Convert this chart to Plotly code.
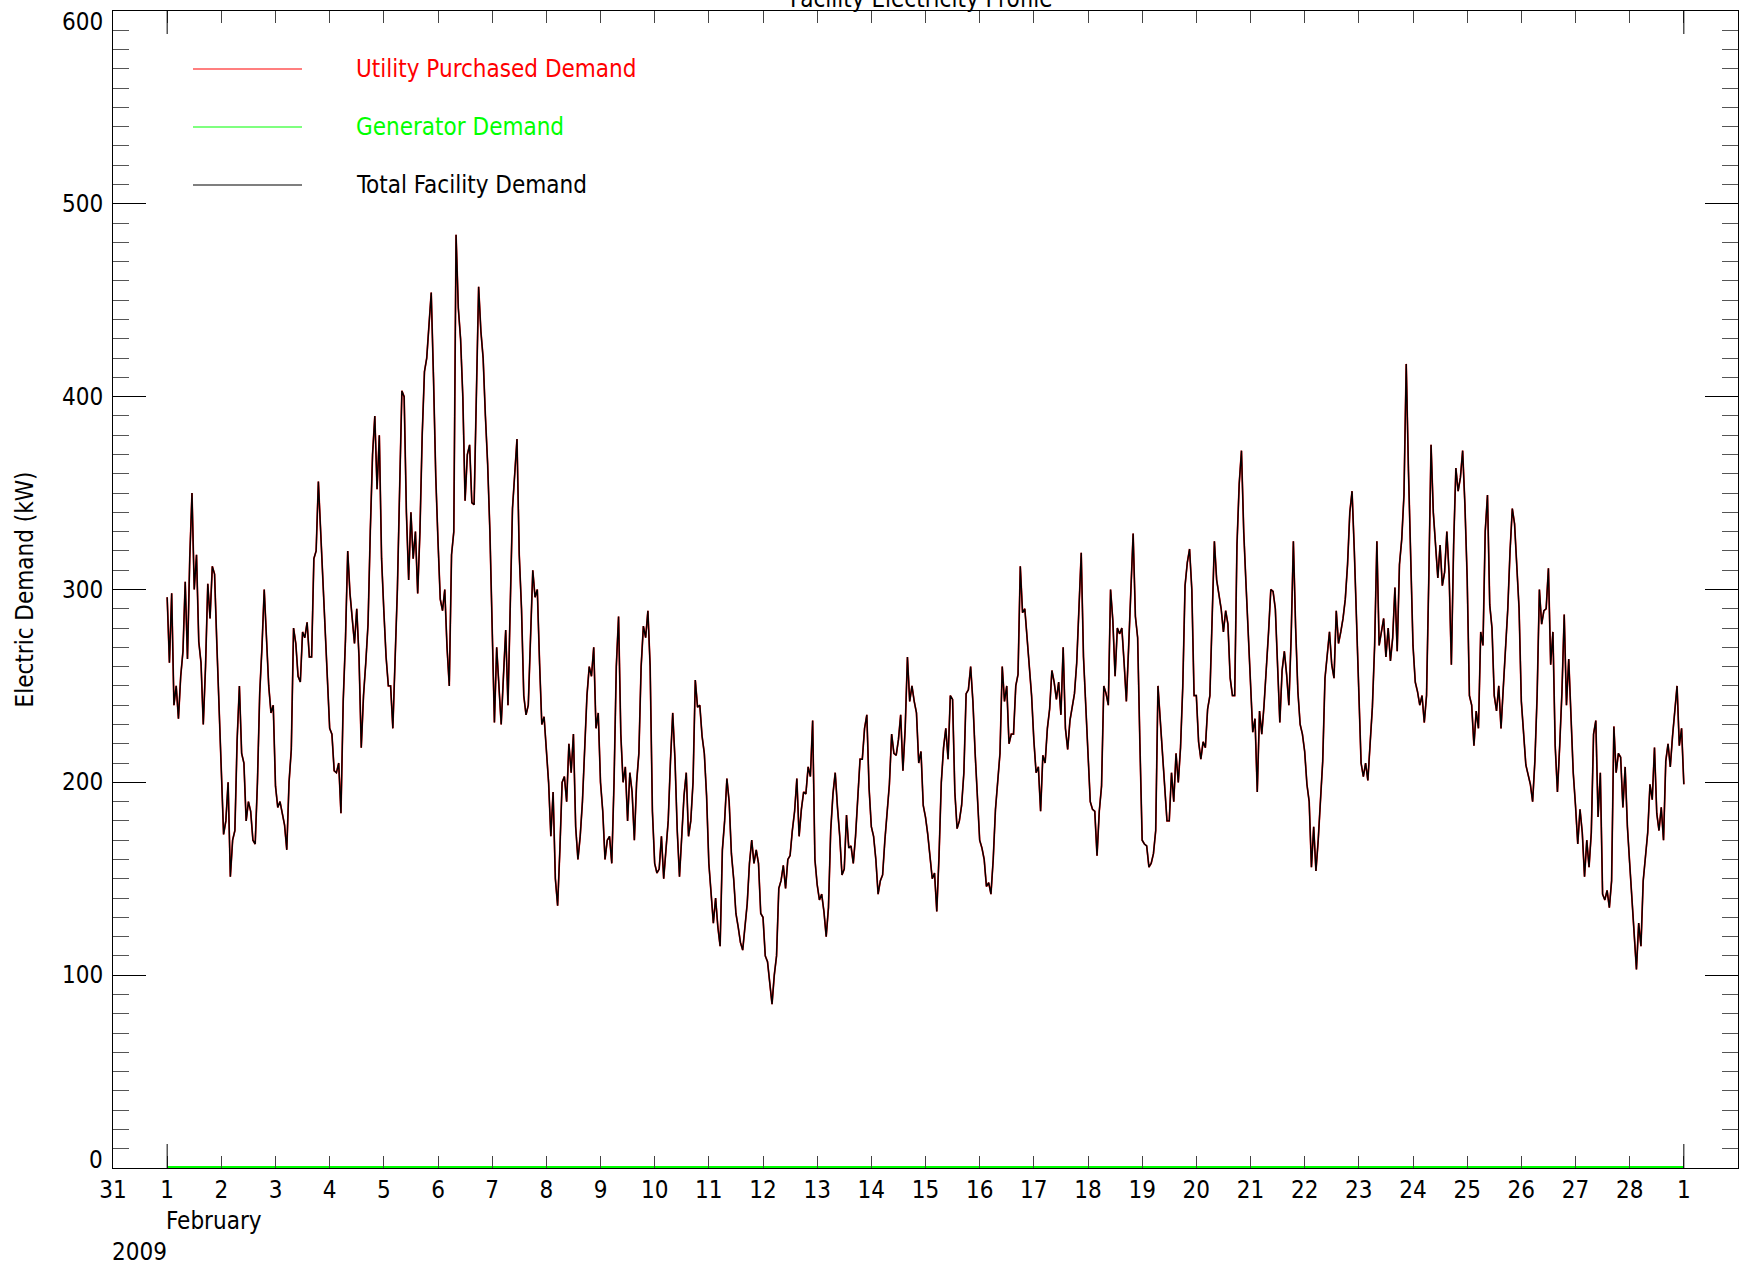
import pandas as pd
import plotly.graph_objects as go

# ---------------- data (hourly readings, kW) ----------------
# Feb 1 - Feb 7
week1_total = [
    296, 262, 298, 240, 250, 233, 255, 268, 304, 264, 316, 350, 300, 318, 273, 262, 230, 260, 303, 285, 312, 308, 272, 239,
    205, 173, 180, 200, 151, 170, 175, 222, 250, 215, 210, 180, 190, 185, 170, 168, 200, 246, 270, 300, 275, 250, 236, 240,
    198, 187, 190, 184, 178, 165, 200, 217, 280, 272, 255, 252, 278, 275, 283, 265, 265, 316, 320, 356, 330, 310, 277, 250,
    228, 225, 206, 205, 210, 184, 242, 274, 320, 298, 285, 272, 290, 265, 218, 245, 262, 282, 330, 370, 390, 352, 380, 316,
    289, 265, 250, 250, 228, 265, 300, 352, 403, 400, 340, 305, 340, 316, 330, 298, 330, 380, 413, 420, 440, 454, 410, 359,
    325, 295, 289, 300, 270, 250, 318, 330, 484, 446, 430, 400, 346, 370, 375, 345, 344, 400, 457, 434, 420, 390, 365, 330,
    280, 231, 270, 250, 230, 255, 279, 240, 290, 342, 360, 378, 318, 290, 245, 235, 240, 280, 310, 296, 300, 262, 230, 234,
]
# Feb 8 - Feb 14
week2_total = [
    215, 200, 172, 195, 150, 136, 165, 200, 203, 190, 220, 205, 225, 177, 160, 172, 190, 215, 245, 260, 255, 270, 228, 236,
    200, 185, 160, 170, 172, 158, 200, 260, 286, 225, 200, 208, 180, 205, 195, 170, 200, 215, 260, 281, 275, 289, 260, 185,
    158, 153, 155, 172, 150, 165, 180, 211, 236, 212, 175, 151, 172, 193, 205, 172, 180, 200, 253, 239, 240, 224, 215, 193,
    158, 140, 127, 140, 125, 115, 165, 180, 202, 190, 163, 150, 132, 125, 117, 113, 126, 137, 158, 170, 158, 165, 158, 132,
    130, 110, 107, 94, 85, 100, 110, 145, 149, 157, 145, 160, 162, 175, 185, 202, 172, 186, 195, 194, 208, 203, 232, 160,
    147, 139, 142, 133, 120, 135, 175, 194, 205, 187, 172, 152, 155, 183, 166, 167, 158, 172, 190, 212, 212, 228, 235, 197,
    177, 172, 160, 142, 149, 152, 170, 185, 199, 225, 215, 214, 222, 235, 206, 228, 265, 242, 250, 242, 236, 210, 216, 188,
]
# Feb 15 - Feb 21
week3_total = [
    182, 173, 160, 150, 153, 133, 162, 200, 218, 228, 212, 245, 243, 195, 176, 180, 188, 205, 246, 248, 260, 242, 215, 190,
    170, 166, 160, 146, 148, 142, 160, 186, 201, 215, 260, 242, 250, 220, 225, 225, 250, 256, 312, 288, 290, 275, 262, 245,
    222, 205, 208, 185, 214, 210, 228, 238, 258, 252, 243, 252, 235, 270, 228, 217, 232, 238, 246, 262, 290, 319, 265, 240,
    220, 190, 186, 185, 162, 185, 198, 250, 246, 240, 300, 284, 255, 280, 277, 280, 262, 242, 270, 305, 329, 286, 275, 220,
    170, 168, 167, 156, 158, 163, 175, 250, 232, 212, 197, 180, 180, 205, 190, 215, 200, 218, 250, 302, 314, 321, 300, 245,
    245, 221, 212, 221, 218, 238, 245, 280, 325, 305, 297, 290, 278, 289, 282, 254, 245, 245, 323, 355, 372, 330, 303, 275,
    250, 226, 233, 195, 237, 225, 240, 257, 278, 300, 299, 290, 263, 231, 258, 268, 256, 240, 275, 325, 280, 247, 230, 225,
]
# Feb 22 - Feb 28
week4_total = [
    216, 199, 190, 156, 177, 154, 170, 190, 211, 254, 265, 278, 261, 254, 289, 272, 278, 285, 295, 313, 340, 351, 320, 285,
    250, 210, 203, 210, 201, 222, 239, 271, 325, 271, 278, 285, 265, 280, 263, 275, 301, 268, 313, 326, 349, 417, 361, 320,
    271, 252, 247, 240, 245, 231, 245, 306, 375, 340, 323, 306, 323, 302, 309, 330, 308, 261, 323, 363, 351, 358, 372, 344,
    306, 245, 240, 219, 237, 228, 278, 271, 330, 349, 292, 280, 245, 237, 250, 228, 249, 271, 290, 320, 342, 334, 309, 290,
    242, 223, 209, 204, 199, 190, 211, 245, 300, 282, 289, 290, 311, 261, 278, 219, 195, 219, 247, 287, 240, 264, 237, 205,
    188, 168, 186, 174, 151, 170, 156, 174, 225, 232, 182, 205, 142, 139, 144, 135, 149, 229, 205, 215, 213, 187, 208, 177,
    158, 139, 123, 103, 127, 115, 149, 163, 174, 199, 191, 218, 184, 175, 187, 170, 211, 220, 208, 224, 237, 250, 219, 228,
]
# Mar 1 00:00
final_total = [199]

total_demand = week1_total + week2_total + week3_total + week4_total + final_total
generator_demand = [0] * len(total_demand)
utility_demand = [t - g for t, g in zip(total_demand, generator_demand)]
times = pd.date_range("2009-02-01 00:00", periods=len(total_demand), freq="h")

day_ticks = pd.date_range("2009-01-31", "2009-03-01", freq="D")
day_labels = [str(d.day) for d in day_ticks]
y_ticks = [0, 100, 200, 300, 400, 500, 600]

legend_names = ["Utility Purchased Demand", "Generator Demand", "Total Facility Demand"]
legend_colors = ["#ff0000", "#00ff00", "#000000"]

# ---------------- figure ----------------
FONT = "Liberation Sans Narrow, Arial Narrow, DejaVu Sans Condensed, sans-serif"
FS = 24
W, H = 1741, 1272
L, R, T, B = 113, 3, 11, 104
PW, PH = W - L - R, H - T - B

fig = go.Figure()
fig.add_trace(go.Scatter(x=times, y=utility_demand, mode="lines", name=legend_names[0],
                         line=dict(color="#ff0000", width=1.7)))
fig.add_trace(go.Scatter(x=times, y=total_demand, mode="lines", name=legend_names[2],
                         line=dict(color="#000000", width=1.4)))
fig.add_trace(go.Scatter(x=times, y=generator_demand, mode="lines", name=legend_names[1],
                         line=dict(color="#00ff00", width=4)))

fig.update_layout(
    width=W, height=H,
    margin=dict(l=L, r=R, t=T, b=B, pad=0),
    paper_bgcolor="white", plot_bgcolor="white",
    showlegend=False,
    font=dict(family=FONT, size=FS, color="black"),
)

fig.update_xaxes(
    type="date", range=["2009-01-31 00:00", "2009-03-02 00:00"],
    tickmode="array", tickvals=list(day_ticks), ticktext=day_labels,
    ticks="inside", ticklen=12, tickwidth=1, tickcolor="#444",
    showline=True, linecolor="black", linewidth=1, mirror="ticks",
    showgrid=False, zeroline=False,
    tickfont=dict(family=FONT, size=FS, color="black"),
)
fig.update_yaxes(
    range=[0, 600], tickmode="array", tickvals=y_ticks,
    ticks="inside", ticklen=33, tickwidth=1, tickcolor="black",
    minor=dict(dtick=10, ticks="inside", ticklen=16, tickcolor="#555", tickwidth=1, showgrid=False),
    showticklabels=False,
    showline=True, linecolor="black", linewidth=1, mirror="ticks",
    showgrid=False, zeroline=False,
)

# longer month-boundary ticks (Feb 1, Mar 1) on bottom and top
for d in ["2009-02-01", "2009-03-01"]:
    fig.add_shape(type="line", xref="x", yref="paper", x0=d, x1=d, y0=0, y1=24 / PH,
                  line=dict(color="black", width=1))
    fig.add_shape(type="line", xref="x", yref="paper", x0=d, x1=d, y0=1, y1=1 - 23 / PH,
                  line=dict(color="black", width=1))

# y tick labels
for v in y_ticks:
    shift = 0
    if v == 600:
        shift = -11
    elif v == 0:
        shift = 8
    fig.add_annotation(text=str(v), xref="paper", x=0, xanchor="right", xshift=-8,
                       yref="y", y=v, yanchor="middle", yshift=shift, showarrow=False,
                       font=dict(family=FONT, size=FS, color="black"))

# axis title
fig.add_annotation(text="Electric Demand (kW)", textangle=-90, xref="paper", x=(24 - L) / PW,
                   xanchor="center", yref="paper", y=0.5, yanchor="middle", showarrow=False,
                   font=dict(family=FONT, size=FS, color="black"))

# month / year rows under the axis
fig.add_annotation(text="February", xref="x", x="2009-02-01", xanchor="left", xshift=-3,
                   yref="paper", y=(1168 - 1221) / PH, yanchor="middle", showarrow=False,
                   font=dict(family=FONT, size=FS, color="black"))
fig.add_annotation(text="2009", xref="x", x="2009-01-31", xanchor="left", xshift=-3,
                   yref="paper", y=(1168 - 1252) / PH, yanchor="middle", showarrow=False,
                   font=dict(family=FONT, size=FS, color="black"))

# title (cut off at the top edge as in the original)
fig.add_annotation(text="Facility Electricity Profile", xref="paper", x=(921 - L) / PW, xanchor="center",
                   yref="paper", y=(1168 + 1) / PH, yanchor="middle", showarrow=False,
                   font=dict(family=FONT, size=FS, color="black"))

# legend
legend_y_px = [69, 127, 185]
for name, col, ypx in zip(legend_names, legend_colors, legend_y_px):
    yp = (1168 - ypx) / PH
    fig.add_shape(type="line", xref="paper", yref="paper",
                  x0=(193 - L) / PW, x1=(302 - L) / PW, y0=yp, y1=yp,
                  line=dict(color=col, width=1.2))
    fig.add_annotation(text=name, xref="paper", x=(354 - L) / PW, xanchor="left",
                       yref="paper", y=yp, yanchor="middle", showarrow=False,
                       font=dict(family=FONT, size=FS, color=col))

fig.write_html("out.html", config={"displayModeBar": False},
               post_script="document.body.style.margin='0';document.body.style.overflow='hidden';")
